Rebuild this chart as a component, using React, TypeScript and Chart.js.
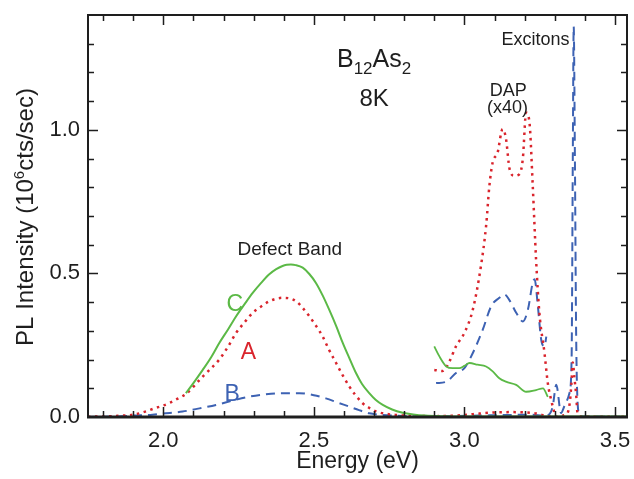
import React, { useEffect, useRef } from "react";
import { Chart, registerables } from "chart.js";
Chart.register(...registerables);

// ---- data (energy in eV, intensity in 10^6 cts/sec) ----
const cMainE = [2.075, 2.10, 2.131, 2.16, 2.186, 2.215, 2.242, 2.27, 2.297, 2.325, 2.352, 2.375, 2.396, 2.41, 2.424, 2.44, 2.463, 2.485, 2.507, 2.53, 2.551, 2.575, 2.596, 2.62, 2.64, 2.66, 2.684, 2.705, 2.729, 2.76, 2.795, 2.83, 2.87, 2.92, 3.0, 3.1, 3.2, 3.3, 3.4, 3.54];
const cMainI = [0.083, 0.118, 0.164, 0.21, 0.258, 0.305, 0.351, 0.393, 0.432, 0.467, 0.497, 0.515, 0.526, 0.53, 0.531, 0.529, 0.52, 0.498, 0.467, 0.422, 0.374, 0.315, 0.258, 0.2, 0.153, 0.115, 0.083, 0.06, 0.042, 0.026, 0.015, 0.009, 0.005, 0.003, 0.002, 0.002, 0.002, 0.002, 0.002, 0.002];

const cDapE = [2.90, 2.917, 2.94, 2.961, 2.983, 3.0, 3.017, 3.044, 3.072, 3.094, 3.116, 3.138, 3.172, 3.205, 3.238, 3.261, 3.277];
const cDapI = [0.246, 0.211, 0.176, 0.17, 0.17, 0.178, 0.188, 0.182, 0.176, 0.159, 0.135, 0.123, 0.112, 0.088, 0.094, 0.1, 0.07];

const aMainE = [1.75, 1.80, 1.85, 1.90, 1.944, 1.97, 2.0, 2.023, 2.05, 2.075, 2.131, 2.186, 2.215, 2.242, 2.27, 2.297, 2.325, 2.352, 2.375, 2.396, 2.42, 2.441, 2.463, 2.485, 2.507, 2.529, 2.55, 2.574, 2.596, 2.618, 2.64, 2.662, 2.685, 2.707, 2.74, 2.773, 2.82, 2.9, 3.0, 3.05, 3.1, 3.15, 3.2, 3.24, 3.27, 3.30, 3.34, 3.35, 3.355, 3.36, 3.365, 3.371, 3.376, 3.39, 3.45, 3.54];
const aMainI = [0.001, 0.002, 0.004, 0.008, 0.02, 0.03, 0.04, 0.05, 0.065, 0.08, 0.141, 0.2, 0.245, 0.293, 0.33, 0.363, 0.385, 0.403, 0.412, 0.415, 0.413, 0.403, 0.38, 0.351, 0.318, 0.281, 0.235, 0.188, 0.145, 0.106, 0.074, 0.048, 0.031, 0.019, 0.011, 0.007, 0.004, 0.003, 0.007, 0.012, 0.016, 0.017, 0.016, 0.012, 0.004, 0.002, 0.01, 0.05, 0.11, 0.19, 0.14, 0.08, 0.01, 0.002, 0.001, 0.001];

const aDapE = [2.90, 2.928, 2.95, 2.972, 3.0, 3.028, 3.055, 3.072, 3.083, 3.094, 3.11, 3.127, 3.138, 3.15, 3.166, 3.183, 3.194, 3.205, 3.216, 3.227, 3.238, 3.249, 3.266, 3.277, 3.288, 3.30];
const aDapI = [0.164, 0.16, 0.193, 0.246, 0.293, 0.374, 0.526, 0.665, 0.805, 0.887, 0.92, 1.003, 0.97, 0.864, 0.84, 0.846, 0.899, 1.06, 1.027, 0.805, 0.549, 0.363, 0.223, 0.118, 0.06, 0.01];

const bMainE = [1.75, 1.85, 1.90, 1.964, 2.0, 2.064, 2.12, 2.175, 2.23, 2.286, 2.34, 2.396, 2.452, 2.50, 2.54, 2.58, 2.618, 2.65, 2.684, 2.72, 2.78, 2.85, 2.95, 3.05, 3.15, 3.22, 3.27, 3.293, 3.305, 3.321, 3.333, 3.349, 3.356, 3.360, 3.363, 3.367, 3.371, 3.376, 3.382, 3.40, 3.54];
const bMainI = [0.0, 0.002, 0.005, 0.008, 0.012, 0.019, 0.03, 0.042, 0.057, 0.071, 0.079, 0.083, 0.083, 0.076, 0.065, 0.05, 0.036, 0.024, 0.013, 0.008, 0.004, 0.002, 0.003, 0.005, 0.007, 0.008, 0.005, 0.035, 0.112, 0.014, 0.04, 0.084, 0.2, 0.9, 1.36, 0.9, 0.3, 0.05, 0.01, 0.002, 0.001];

const bDapE = [2.906, 2.94, 2.972, 3.0, 3.028, 3.061, 3.089, 3.116, 3.133, 3.15, 3.172, 3.194, 3.211, 3.227, 3.233, 3.244, 3.255, 3.266, 3.272];
const bDapI = [0.118, 0.123, 0.153, 0.17, 0.223, 0.304, 0.386, 0.415, 0.427, 0.406, 0.363, 0.333, 0.374, 0.468, 0.48, 0.386, 0.27, 0.246, 0.28];

const xTickLabels = [2.0, 2.5, 3.0, 3.5];
const yTickLabels = [0.0, 0.5, 1.0];

const GREEN = "#5bb946";
const RED = "#d9242c";
const BLUE = "#3d62b3";
const INK = "#1e1e1e";
const FONT = "'Liberation Sans', Arial, Helvetica, sans-serif";

const pts = (xs: number[], ys: number[]) => xs.map((x, i) => ({ x, y: ys[i] }));

const decorPlugin = {
  id: "decor",
  afterDraw(chart: any) {
    const { ctx, chartArea: a, scales } = chart;
    const xs = scales.x;
    const ys = scales.y;
    ctx.save();
    // inward ticks
    ctx.strokeStyle = INK;
    ctx.lineWidth = 1.5;
    for (let k = 18; k <= 35; k++) {
      const px = Math.round(xs.getPixelForValue(k / 10)) + 0.5;
      const len = k % 5 === 0 ? 10 : 6;
      ctx.beginPath();
      ctx.moveTo(px, a.bottom);
      ctx.lineTo(px, a.bottom - len);
      ctx.moveTo(px, a.top);
      ctx.lineTo(px, a.top + len);
      ctx.stroke();
    }
    for (let k = 1; k <= 13; k++) {
      const py = Math.round(ys.getPixelForValue(k / 10)) + 0.5;
      const len = k % 5 === 0 ? 10 : 6;
      ctx.beginPath();
      ctx.moveTo(a.left, py);
      ctx.lineTo(a.left + len, py);
      ctx.moveTo(a.right, py);
      ctx.lineTo(a.right - len, py);
      ctx.stroke();
    }
    // frame
    ctx.lineWidth = 2;
    ctx.strokeRect(a.left, a.top, a.right - a.left, a.bottom - a.top);
    ctx.lineWidth = 3;
    ctx.beginPath();
    ctx.moveTo(a.left - 1, a.bottom);
    ctx.lineTo(a.right + 1, a.bottom);
    ctx.stroke();

    const X = (v: number) => xs.getPixelForValue(v);
    const Y = (v: number) => ys.getPixelForValue(v);
    const text = (s: string, x: number, y: number, size: number, color = INK, align: CanvasTextAlign = "center") => {
      ctx.font = `${size}px ${FONT}`;
      ctx.fillStyle = color;
      ctx.textAlign = align;
      ctx.textBaseline = "alphabetic";
      ctx.fillText(s, x, y);
    };

    // B12As2 with subscripts
    {
      const parts: [string, number, number][] = [["B", 25, 0], ["12", 17, 7], ["As", 25, 0], ["2", 17, 7]];
      let total = 0;
      for (const [s, sz] of parts) {
        ctx.font = `${sz}px ${FONT}`;
        total += ctx.measureText(s).width;
      }
      let x = X(2.70) - total / 2;
      const base = Y(1.22);
      for (const [s, sz, dy] of parts) {
        text(s, x, base + dy, sz, INK, "left");
        ctx.font = `${sz}px ${FONT}`;
        x += ctx.measureText(s).width;
      }
    }
    text("8K", X(2.70), Y(1.084), 24);
    text("DAP", X(3.146), Y(1.118), 18);
    text("(x40)", X(3.143), Y(1.058), 18);
    text("Excitons", X(3.236), Y(1.295), 18);
    text("Defect Band", X(2.42), Y(0.563), 19);
    text("C", X(2.2375), Y(0.368), 23, GREEN);
    text("A", X(2.283), Y(0.203), 23, RED);
    text("B", X(2.229), Y(0.056), 23, BLUE);

    // x axis title
    text("Energy (eV)", (a.left + a.right) / 2, 468, 23);

    // y axis title with superscript
    {
      const parts: [string, number, number][] = [["PL Intensity (10", 24, 0], ["6", 15, -9], ["cts/sec)", 24, 0]];
      let total = 0;
      for (const [s, sz] of parts) {
        ctx.font = `${sz}px ${FONT}`;
        total += ctx.measureText(s).width;
      }
      ctx.save();
      ctx.translate(33, (a.top + a.bottom) / 2 + 1);
      ctx.rotate(-Math.PI / 2);
      let x = -total / 2;
      for (const [s, sz, dy] of parts) {
        text(s, x, dy, sz, INK, "left");
        ctx.font = `${sz}px ${FONT}`;
        x += ctx.measureText(s).width;
      }
      ctx.restore();
    }
    ctx.restore();
  },
};

export default function App() {
  const ref = useRef<HTMLCanvasElement | null>(null);
  useEffect(() => {
    if (!ref.current) return;
    const common = { fill: false, pointRadius: 0, cubicInterpolationMode: "monotone" as const };
    const chart = new Chart(ref.current, {
      type: "line",
      data: {
        datasets: [
          { ...common, label: "C", data: pts(cMainE, cMainI), borderColor: GREEN, borderWidth: 2 },
          { ...common, label: "C x40", data: pts(cDapE, cDapI), borderColor: GREEN, borderWidth: 1.8 },
          { ...common, label: "A", data: pts(aMainE, aMainI), borderColor: RED, borderWidth: 2.5, borderDash: [2.5, 4.5] },
          { ...common, label: "A x40", data: pts(aDapE, aDapI), borderColor: RED, borderWidth: 2.5, borderDash: [2.5, 4.5] },
          { ...common, label: "B", data: pts(bMainE, bMainI), borderColor: BLUE, borderWidth: 2, borderDash: [9, 6] },
          { ...common, label: "B x40", data: pts(bDapE, bDapI), borderColor: BLUE, borderWidth: 2, borderDash: [9, 6] },
        ],
      },
      options: {
        responsive: false,
        animation: false,
        parsing: false as any,
        layout: { padding: { top: 15, right: 7, left: 0, bottom: 0 } },
        plugins: { legend: { display: false }, tooltip: { enabled: false }, title: { display: false } },
        scales: {
          x: {
            type: "linear",
            min: 1.75,
            max: 3.54,
            grid: { display: false, drawTicks: false },
            border: { display: false },
            afterFit: (s: any) => { s.height = 62; s.paddingLeft = 0; s.paddingRight = 0; },
            afterBuildTicks: (s: any) => { s.ticks = xTickLabels.map((v) => ({ value: v })); },
            ticks: {
              padding: 11,
              color: INK,
              font: { family: FONT, size: 22 },
              callback: (v: any) => Number(v).toFixed(1),
            },
          },
          y: {
            type: "linear",
            min: 0,
            max: 1.4,
            grid: { display: false, drawTicks: false },
            border: { display: false },
            afterFit: (s: any) => { s.width = 88; s.paddingTop = 0; s.paddingBottom = 0; },
            afterBuildTicks: (s: any) => { s.ticks = yTickLabels.map((v) => ({ value: v })); },
            ticks: {
              padding: 8,
              color: INK,
              font: { family: FONT, size: 22 },
              callback: (v: any) => Number(v).toFixed(1),
            },
          },
        },
      },
      plugins: [decorPlugin],
    });
    return () => chart.destroy();
  }, []);
  return (
    <div style={{ position: "absolute", left: 0, top: 0, width: 634, height: 479, background: "#fff" }}>
      <canvas ref={ref} width={634} height={479} />
    </div>
  );
}
